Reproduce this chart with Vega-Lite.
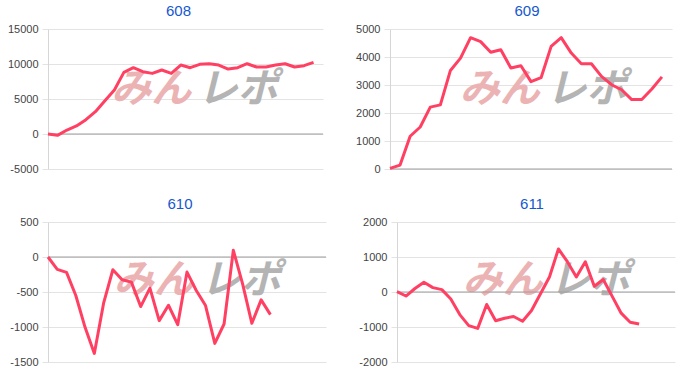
{
  "$schema": "https://vega.github.io/schema/vega-lite/v6.json",
  "background": "white",
  "padding": {"left": 7, "top": 4, "right": 5, "bottom": 5},
  "config": {
    "view": {"stroke": null},
    "font": "Liberation Sans",
    "axis": {
      "labelFont": "Liberation Sans",
      "labelFontSize": 11,
      "labelColor": "#444444",
      "grid": true,
      "gridColor": "#e3e3e3",
      "domainColor": "#d6d6d6",
      "tickColor": "#e3e3e3",
      "tickSize": 6,
      "labelPadding": 4,
      "labelOverlap": false
    },
    "title": {"fontSize": 15, "fontWeight": "normal", "color": "#1558d0", "font": "Liberation Sans", "offset": 4}
  },
  "datasets": {
    "d608": [
      {"i": 0, "v": 0}, {"i": 1, "v": -190}, {"i": 2, "v": 570}, {"i": 3, "v": 1150}, {"i": 4, "v": 2050},
      {"i": 5, "v": 3190}, {"i": 6, "v": 4760}, {"i": 7, "v": 6280}, {"i": 8, "v": 8800}, {"i": 9, "v": 9470},
      {"i": 10, "v": 8900}, {"i": 11, "v": 8660}, {"i": 12, "v": 9140}, {"i": 13, "v": 8660}, {"i": 14, "v": 9850},
      {"i": 15, "v": 9470}, {"i": 16, "v": 9950}, {"i": 17, "v": 10040}, {"i": 18, "v": 9850}, {"i": 19, "v": 9280},
      {"i": 20, "v": 9470}, {"i": 21, "v": 10040}, {"i": 22, "v": 9570}, {"i": 23, "v": 9570}, {"i": 24, "v": 9850},
      {"i": 25, "v": 10040}, {"i": 26, "v": 9570}, {"i": 27, "v": 9760}, {"i": 28, "v": 10230}
    ],
    "d609": [
      {"i": 0, "v": 20}, {"i": 1, "v": 140}, {"i": 2, "v": 1170}, {"i": 3, "v": 1500}, {"i": 4, "v": 2210},
      {"i": 5, "v": 2290}, {"i": 6, "v": 3520}, {"i": 7, "v": 3960}, {"i": 8, "v": 4690}, {"i": 9, "v": 4550},
      {"i": 10, "v": 4170}, {"i": 11, "v": 4260}, {"i": 12, "v": 3610}, {"i": 13, "v": 3690}, {"i": 14, "v": 3120},
      {"i": 15, "v": 3260}, {"i": 16, "v": 4380}, {"i": 17, "v": 4690}, {"i": 18, "v": 4140}, {"i": 19, "v": 3760},
      {"i": 20, "v": 3760}, {"i": 21, "v": 3310}, {"i": 22, "v": 3010}, {"i": 23, "v": 2830}, {"i": 24, "v": 2480},
      {"i": 25, "v": 2480}, {"i": 26, "v": 2860}, {"i": 27, "v": 3290}
    ],
    "d610": [
      {"i": 0, "v": 0}, {"i": 1, "v": -177}, {"i": 2, "v": -220}, {"i": 3, "v": -550}, {"i": 4, "v": -1005},
      {"i": 5, "v": -1378}, {"i": 6, "v": -660}, {"i": 7, "v": -182}, {"i": 8, "v": -325}, {"i": 9, "v": -359},
      {"i": 10, "v": -708}, {"i": 11, "v": -445}, {"i": 12, "v": -909}, {"i": 13, "v": -689}, {"i": 14, "v": -966},
      {"i": 15, "v": -215}, {"i": 16, "v": -478}, {"i": 17, "v": -694}, {"i": 18, "v": -1234}, {"i": 19, "v": -957},
      {"i": 20, "v": 96}, {"i": 21, "v": -383}, {"i": 22, "v": -947}, {"i": 23, "v": -612}, {"i": 24, "v": -823}
    ],
    "d611": [
      {"i": 0, "v": 10}, {"i": 1, "v": -115}, {"i": 2, "v": 100}, {"i": 3, "v": 280}, {"i": 4, "v": 125},
      {"i": 5, "v": 67}, {"i": 6, "v": -200}, {"i": 7, "v": -645}, {"i": 8, "v": -960}, {"i": 9, "v": -1040},
      {"i": 10, "v": -355}, {"i": 11, "v": -820}, {"i": 12, "v": -750}, {"i": 13, "v": -700}, {"i": 14, "v": -835},
      {"i": 15, "v": -530}, {"i": 16, "v": -50}, {"i": 17, "v": 430}, {"i": 18, "v": 1230}, {"i": 19, "v": 865},
      {"i": 20, "v": 430}, {"i": 21, "v": 865}, {"i": 22, "v": 165}, {"i": 23, "v": 355}, {"i": 24, "v": -125},
      {"i": 25, "v": -605}, {"i": 26, "v": -865}, {"i": 27, "v": -915}
    ]
  },
  "spacing": 23,
  "vconcat": [
    {
      "spacing": 31,
      "hconcat": [
        {
          "title": {"text": "608", "dx": -7},
          "width": 275, "height": 140,
          "data": {"name": "d608"},
          "layer": [
            {"data": {"values": [{}]}, "mark": {"type": "text", "text": "みん", "font": "Noto Sans CJK JP", "fontSize": 40, "fontWeight": "bold", "fontStyle": "italic", "color": "#ebb3b3", "align": "center", "baseline": "middle"},
             "encoding": {"x": {"datum": 10.9, "type": "quantitative", "scale": {"domain": [0, 29], "nice": false, "zero": false}, "axis": null}, "y": {"datum": 6286, "type": "quantitative", "scale": {"domain": [-5000, 15000], "nice": false}, "axis": {"values": [-5000, 0, 5000, 10000, 15000], "labelExpr": "toString(datum.value)", "title": null}}}},
            {"data": {"values": [{}]}, "mark": {"type": "text", "text": "レポ", "font": "Noto Sans CJK JP", "fontSize": 40, "fontWeight": "bold", "fontStyle": "italic", "color": "#b4b4b4", "align": "center", "baseline": "middle"},
             "encoding": {"x": {"datum": 20.0, "type": "quantitative", "axis": null}, "y": {"datum": 6286, "type": "quantitative", "axis": {"values": [-5000, 0, 5000, 10000, 15000], "labelExpr": "toString(datum.value)", "title": null}}}},
            {"data": {"values": [{}]}, "mark": {"type": "rule", "color": "#9e9e9e", "strokeWidth": 1}, "encoding": {"y": {"datum": 0, "type": "quantitative", "axis": {"values": [-5000, 0, 5000, 10000, 15000], "labelExpr": "toString(datum.value)", "title": null}}}},
            {"mark": {"type": "line", "color": "#ff4062", "strokeWidth": 3, "strokeJoin": "round"},
             "encoding": {
               "x": {"field": "i", "type": "quantitative", "axis": null},
               "y": {"field": "v", "type": "quantitative", "axis": {"values": [-5000, 0, 5000, 10000, 15000], "labelExpr": "toString(datum.value)", "title": null}}
             }}
          ]
        },
        {
          "title": {"text": "609", "dx": -4},
          "width": 282, "height": 140,
          "data": {"name": "d609"},
          "layer": [
            {"data": {"values": [{}]}, "mark": {"type": "text", "text": "みん", "font": "Noto Sans CJK JP", "fontSize": 40, "fontWeight": "bold", "fontStyle": "italic", "color": "#ebb3b3", "align": "center", "baseline": "middle"},
             "encoding": {"x": {"datum": 10.9, "type": "quantitative", "scale": {"domain": [0, 28], "nice": false, "zero": false}, "axis": null}, "y": {"datum": 2821, "type": "quantitative", "scale": {"domain": [0, 5000], "nice": false}, "axis": {"values": [0, 1000, 2000, 3000, 4000, 5000], "labelExpr": "toString(datum.value)", "title": null}}}},
            {"data": {"values": [{}]}, "mark": {"type": "text", "text": "レポ", "font": "Noto Sans CJK JP", "fontSize": 40, "fontWeight": "bold", "fontStyle": "italic", "color": "#b4b4b4", "align": "center", "baseline": "middle"},
             "encoding": {"x": {"datum": 19.5, "type": "quantitative", "axis": null}, "y": {"datum": 2821, "type": "quantitative", "axis": {"values": [0, 1000, 2000, 3000, 4000, 5000], "labelExpr": "toString(datum.value)", "title": null}}}},
            {"data": {"values": [{}]}, "mark": {"type": "rule", "color": "#9e9e9e", "strokeWidth": 1}, "encoding": {"y": {"datum": 0, "type": "quantitative", "axis": {"values": [0, 1000, 2000, 3000, 4000, 5000], "labelExpr": "toString(datum.value)", "title": null}}}},
            {"mark": {"type": "line", "color": "#ff4062", "strokeWidth": 3, "strokeJoin": "round"},
             "encoding": {
               "x": {"field": "i", "type": "quantitative", "axis": null},
               "y": {"field": "v", "type": "quantitative", "axis": {"values": [0, 1000, 2000, 3000, 4000, 5000], "labelExpr": "toString(datum.value)", "title": null}}
             }}
          ]
        }
      ]
    },
    {
      "spacing": 31,
      "hconcat": [
        {
          "title": {"text": "610", "dx": -7},
          "width": 278, "height": 140,
          "data": {"name": "d610"},
          "layer": [
            {"data": {"values": [{}]}, "mark": {"type": "text", "text": "みん", "font": "Noto Sans CJK JP", "fontSize": 40, "fontWeight": "bold", "fontStyle": "italic", "color": "#ebb3b3", "align": "center", "baseline": "middle"},
             "encoding": {"x": {"datum": 11.4, "type": "quantitative", "scale": {"domain": [0, 30], "nice": false, "zero": false}, "axis": null}, "y": {"datum": -342, "type": "quantitative", "scale": {"domain": [-1500, 500], "nice": false}, "axis": {"values": [-1500, -1000, -500, 0, 500], "labelExpr": "toString(datum.value)", "title": null}}}},
            {"data": {"values": [{}]}, "mark": {"type": "text", "text": "レポ", "font": "Noto Sans CJK JP", "fontSize": 40, "fontWeight": "bold", "fontStyle": "italic", "color": "#b4b4b4", "align": "center", "baseline": "middle"},
             "encoding": {"x": {"datum": 20.8, "type": "quantitative", "axis": null}, "y": {"datum": -342, "type": "quantitative", "axis": {"values": [-1500, -1000, -500, 0, 500], "labelExpr": "toString(datum.value)", "title": null}}}},
            {"data": {"values": [{}]}, "mark": {"type": "rule", "color": "#9e9e9e", "strokeWidth": 1}, "encoding": {"y": {"datum": 0, "type": "quantitative", "axis": {"values": [-1500, -1000, -500, 0, 500], "labelExpr": "toString(datum.value)", "title": null}}}},
            {"mark": {"type": "line", "color": "#ff4062", "strokeWidth": 3, "strokeJoin": "round"},
             "encoding": {
               "x": {"field": "i", "type": "quantitative", "axis": null},
               "y": {"field": "v", "type": "quantitative", "axis": {"values": [-1500, -1000, -500, 0, 500], "labelExpr": "toString(datum.value)", "title": null}}
             }}
          ]
        },
        {
          "title": {"text": "611", "dx": -4},
          "width": 278, "height": 140,
          "data": {"name": "d611"},
          "layer": [
            {"data": {"values": [{}]}, "mark": {"type": "text", "text": "みん", "font": "Noto Sans CJK JP", "fontSize": 40, "fontWeight": "bold", "fontStyle": "italic", "color": "#ebb3b3", "align": "center", "baseline": "middle"},
             "encoding": {"x": {"datum": 11.8, "type": "quantitative", "scale": {"domain": [0, 31], "nice": false, "zero": false}, "axis": null}, "y": {"datum": 316, "type": "quantitative", "scale": {"domain": [-2000, 2000], "nice": false}, "axis": {"values": [-2000, -1000, 0, 1000, 2000], "labelExpr": "toString(datum.value)", "title": null}}}},
            {"data": {"values": [{}]}, "mark": {"type": "text", "text": "レポ", "font": "Noto Sans CJK JP", "fontSize": 40, "fontWeight": "bold", "fontStyle": "italic", "color": "#b4b4b4", "align": "center", "baseline": "middle"},
             "encoding": {"x": {"datum": 21.5, "type": "quantitative", "axis": null}, "y": {"datum": 316, "type": "quantitative", "axis": {"values": [-2000, -1000, 0, 1000, 2000], "labelExpr": "toString(datum.value)", "title": null}}}},
            {"data": {"values": [{}]}, "mark": {"type": "rule", "color": "#9e9e9e", "strokeWidth": 1}, "encoding": {"y": {"datum": 0, "type": "quantitative", "axis": {"values": [-2000, -1000, 0, 1000, 2000], "labelExpr": "toString(datum.value)", "title": null}}}},
            {"mark": {"type": "line", "color": "#ff4062", "strokeWidth": 3, "strokeJoin": "round"},
             "encoding": {
               "x": {"field": "i", "type": "quantitative", "axis": null},
               "y": {"field": "v", "type": "quantitative", "axis": {"values": [-2000, -1000, 0, 1000, 2000], "labelExpr": "toString(datum.value)", "title": null}}
             }}
          ]
        }
      ]
    }
  ]
}
